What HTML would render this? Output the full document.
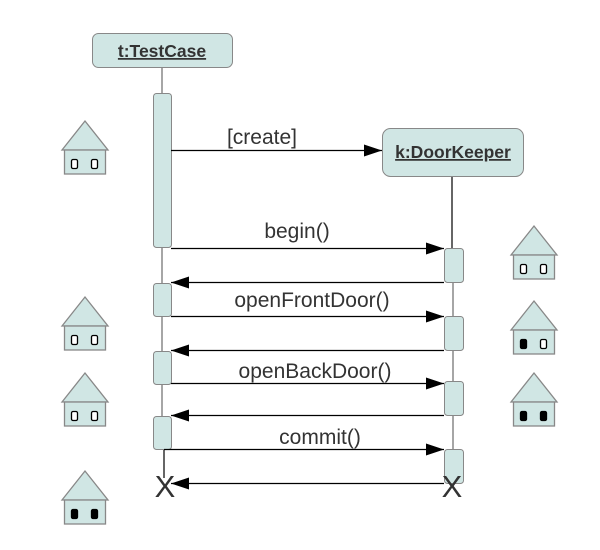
<!DOCTYPE html>
<html><head><meta charset="utf-8"><style>
html,body{margin:0;padding:0;background:#fff;}
svg{display:block;}
text{font-family:"Liberation Sans",sans-serif;fill:#333;}
</style></head><body>
<svg width="600" height="550" viewBox="0 0 600 550" xmlns="http://www.w3.org/2000/svg">
<defs>
<marker id="a" markerWidth="18" markerHeight="12" refX="18" refY="6" orient="auto" markerUnits="userSpaceOnUse">
<path d="M0,0 L18,6 L0,12 Z" fill="#000"/>
</marker>
</defs>
<line x1="162" y1="67" x2="162" y2="93" stroke="#888" stroke-width="1.5"/>
<line x1="162" y1="247" x2="162" y2="449" stroke="#888" stroke-width="1.5"/>
<line x1="452" y1="177" x2="452" y2="248" stroke="#000" stroke-width="1.2"/>
<line x1="453" y1="282" x2="453" y2="449" stroke="#888" stroke-width="1.5"/>
<line x1="164" y1="449" x2="164" y2="478" stroke="#000" stroke-width="1.2"/>
<rect x="92.5" y="33.5" width="140" height="34" rx="6" fill="#d0e6e4" stroke="#888"/>
<text x="162" y="57" font-size="17.5" font-weight="bold" text-anchor="middle" text-decoration="underline">t:TestCase</text>
<rect x="382.5" y="128.5" width="141" height="48" rx="8" fill="#d0e6e4" stroke="#888"/>
<text x="453" y="158" font-size="17.5" font-weight="bold" text-anchor="middle" text-decoration="underline">k:DoorKeeper</text>
<g fill="#d0e6e4" stroke="#888" stroke-width="1">
<rect x="153.5" y="93.5" width="18" height="154" rx="3"/>
<rect x="153.5" y="283.5" width="18" height="33" rx="3"/>
<rect x="153.5" y="351.5" width="18" height="33" rx="3"/>
<rect x="153.5" y="416.5" width="18" height="33" rx="3"/>
<rect x="444.5" y="248.5" width="19" height="34" rx="3"/>
<rect x="444.5" y="316.5" width="19" height="34" rx="3"/>
<rect x="444.5" y="381.5" width="19" height="34" rx="3"/>
<rect x="444.5" y="449.5" width="19" height="34" rx="3"/>
</g>
<g stroke="#000" stroke-width="1.3" marker-end="url(#a)">
<line x1="171" y1="150.5" x2="382" y2="150.5"/>
<line x1="171" y1="248.5" x2="444" y2="248.5"/>
<line x1="444" y1="282.5" x2="171" y2="282.5"/>
<line x1="171" y1="316.5" x2="444" y2="316.5"/>
<line x1="444" y1="350.5" x2="171" y2="350.5"/>
<line x1="171" y1="383.5" x2="444" y2="383.5"/>
<line x1="444" y1="415.5" x2="171" y2="415.5"/>
<line x1="164" y1="449.5" x2="444" y2="449.5"/>
<line x1="444" y1="483.5" x2="171" y2="483.5"/>
</g>
<g font-size="21">
<text x="262" y="144" text-anchor="middle">[create]</text>
<text x="297" y="238" text-anchor="middle">begin()</text>
<text x="312" y="307" text-anchor="middle">openFrontDoor()</text>
<text x="315" y="378" text-anchor="middle">openBackDoor()</text>
<text x="320" y="444" text-anchor="middle">commit()</text>
</g>
<text x="165" y="497" font-size="31" text-anchor="middle" fill="#333">X</text>
<text x="452" y="497" font-size="31" text-anchor="middle" fill="#333">X</text>
<g stroke="#888" stroke-width="1.3" fill="#d0e6e4">
<polygon points="62,150 85,121 108,150"/><rect x="64.5" y="150" width="41" height="24"/>
<polygon points="62,326 85,297 108,326"/><rect x="64.5" y="326" width="41" height="24"/>
<polygon points="62,402 85,373 108,402"/><rect x="64.5" y="402" width="41" height="24"/>
<polygon points="62,500 85,471 108,500"/><rect x="64.5" y="500" width="41" height="24"/>
<polygon points="511,255 534,226 557,255"/><rect x="513.5" y="255" width="41" height="24"/>
<polygon points="511,330 534,301 557,330"/><rect x="513.5" y="330" width="41" height="24"/>
<polygon points="511,402 534,373 557,402"/><rect x="513.5" y="402" width="41" height="24"/>
</g>
<g stroke="#000" stroke-width="1.3">
<rect x="71.5" y="159.5" width="6" height="9" rx="1.5" fill="#fff"/><rect x="91.5" y="159.5" width="6" height="9" rx="1.5" fill="#fff"/>
<rect x="71.5" y="335.5" width="6" height="9" rx="1.5" fill="#fff"/><rect x="91.5" y="335.5" width="6" height="9" rx="1.5" fill="#fff"/>
<rect x="71.5" y="411.5" width="6" height="9" rx="1.5" fill="#fff"/><rect x="91.5" y="411.5" width="6" height="9" rx="1.5" fill="#fff"/>
<rect x="71.5" y="509.5" width="6" height="9" rx="1.5" fill="#000"/><rect x="91.5" y="509.5" width="6" height="9" rx="1.5" fill="#000"/>
<rect x="520.5" y="264.5" width="6" height="9" rx="1.5" fill="#fff"/><rect x="540.5" y="264.5" width="6" height="9" rx="1.5" fill="#fff"/>
<rect x="520.5" y="339.5" width="6" height="9" rx="1.5" fill="#000"/><rect x="540.5" y="339.5" width="6" height="9" rx="1.5" fill="#fff"/>
<rect x="520.5" y="411.5" width="6" height="9" rx="1.5" fill="#000"/><rect x="540.5" y="411.5" width="6" height="9" rx="1.5" fill="#000"/>
</g>
</svg>
</body></html>
